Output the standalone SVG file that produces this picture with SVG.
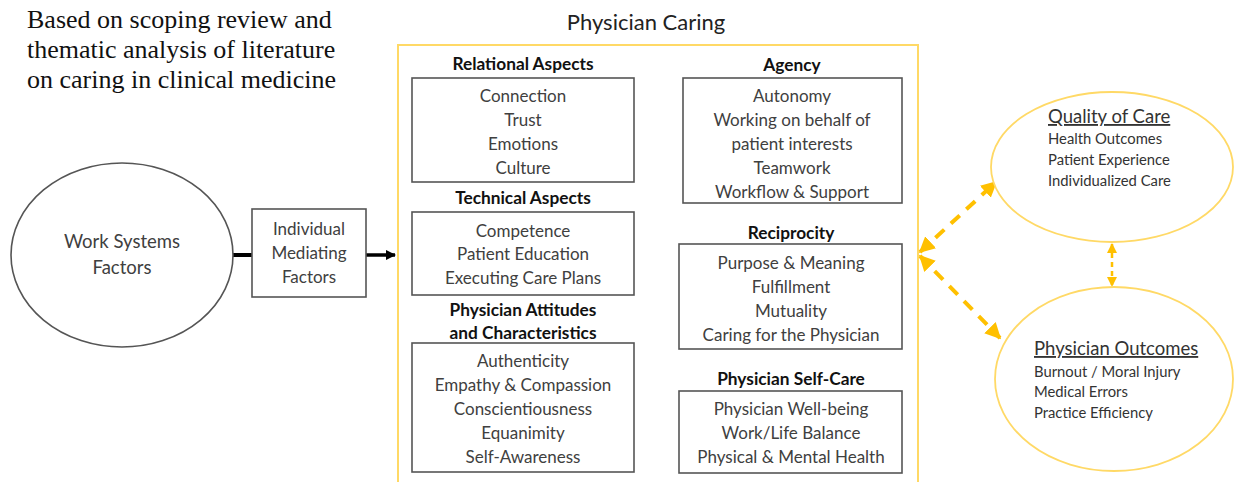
<svg xmlns="http://www.w3.org/2000/svg" width="1234" height="482" viewBox="0 0 1234 482">
<defs>
<style>
.t{font-family:Lato,"Open Sans","Liberation Sans",sans-serif;fill:#404040;text-anchor:middle;dominant-baseline:central}
.it{font-size:17px}
.hd{font-size:17.3px;font-weight:bold;fill:#111}
.box{fill:#fff;stroke:#555;stroke-width:1.6}
.oc{font-family:Lato,"Open Sans","Liberation Sans",sans-serif;fill:#333;font-size:14.8px}
.ot{font-size:18.5px;text-decoration:underline}
.yl{fill:#fff;stroke:#FFD966;stroke-width:1.8}
</style>
<marker id="ah" viewBox="0 0 10 10" refX="9" refY="5" markerWidth="4" markerHeight="4" orient="auto-start-reverse"><path d="M0,0 L10,5 L0,10 z" fill="#FFC000"/></marker>
<marker id="ahs" viewBox="0 0 10 10" refX="9" refY="5" markerWidth="4" markerHeight="4" orient="auto-start-reverse"><path d="M0,0 L10,5 L0,10 z" fill="#FFC000"/></marker>
<marker id="bk" viewBox="0 0 10 10" refX="9" refY="5" markerWidth="3" markerHeight="3" orient="auto"><path d="M0,0 L10,5 L0,10 z" fill="#000"/></marker>
</defs>
<rect width="1234" height="482" fill="#fff"/>
<g id="caption" font-family="'Liberation Serif',serif" font-size="26" fill="#111">
<text x="27" y="28">Based on scoping review and</text>
<text x="27" y="58">thematic analysis of literature</text>
<text x="27" y="88">on caring in clinical medicine</text>
</g>
<g id="physician-caring">
<path d="M398,490 L398,45 L918,45 L918,490" fill="none" stroke="#FFD966" stroke-width="2"/>
<text class="t" x="646" y="21" style="font-size:22px;fill:#222">Physician Caring</text>
</g>
<g id="connectors">
<line x1="232" y1="255" x2="252" y2="255" stroke="#000" stroke-width="4"/>
<line x1="366" y1="255" x2="395" y2="255" stroke="#000" stroke-width="3.5" marker-end="url(#bk)"/>
<line x1="920" y1="252" x2="996" y2="182" stroke="#FFC000" stroke-width="4" stroke-dasharray="12,9" marker-start="url(#ah)" marker-end="url(#ah)"/>
<line x1="920" y1="256" x2="1000" y2="338" stroke="#FFC000" stroke-width="4" stroke-dasharray="12,9" marker-start="url(#ah)" marker-end="url(#ah)"/>
<line x1="1112" y1="244" x2="1112" y2="286" stroke="#FFC000" stroke-width="2.5" stroke-dasharray="5,4" marker-start="url(#ahs)" marker-end="url(#ahs)"/>
</g>
<g id="work-systems">
<ellipse cx="122" cy="255" rx="111" ry="92" fill="#fff" stroke="#555" stroke-width="1.6"/>
<text class="t" x="122" y="241" style="font-size:18.5px">Work Systems</text>
<text class="t" x="122" y="267" style="font-size:18.5px">Factors</text>
</g>
<g id="mediating">
<rect class="box" x="252" y="209" width="114" height="88"/>
<text class="t it" x="309" y="228">Individual</text>
<text class="t it" x="309" y="252">Mediating</text>
<text class="t it" x="309" y="276">Factors</text>
</g>
<g id="relational">
<text class="t hd" x="523" y="63">Relational Aspects</text>
<rect class="box" x="412" y="78" width="222" height="104"/>
<text class="t it" x="523" y="95">Connection</text>
<text class="t it" x="523" y="119">Trust</text>
<text class="t it" x="523" y="143">Emotions</text>
<text class="t it" x="523" y="167">Culture</text>
</g>
<g id="technical">
<text class="t hd" x="523" y="197">Technical Aspects</text>
<rect class="box" x="412" y="212" width="222" height="83"/>
<text class="t it" x="523" y="230">Competence</text>
<text class="t it" x="523" y="253">Patient Education</text>
<text class="t it" x="523" y="277">Executing Care Plans</text>
</g>
<g id="attitudes">
<text class="t hd" x="523" y="309">Physician Attitudes</text>
<text class="t hd" x="523" y="332">and Characteristics</text>
<rect class="box" x="412" y="343" width="222" height="129"/>
<text class="t it" x="523" y="360">Authenticity</text>
<text class="t it" x="523" y="384">Empathy &amp; Compassion</text>
<text class="t it" x="523" y="408">Conscientiousness</text>
<text class="t it" x="523" y="432">Equanimity</text>
<text class="t it" x="523" y="456">Self-Awareness</text>
</g>
<g id="agency">
<text class="t hd" x="792" y="64">Agency</text>
<rect class="box" x="683" y="78" width="219" height="125"/>
<text class="t it" x="792" y="95">Autonomy</text>
<text class="t it" x="792" y="119">Working on behalf of</text>
<text class="t it" x="792" y="143">patient interests</text>
<text class="t it" x="792" y="167">Teamwork</text>
<text class="t it" x="792" y="191">Workflow &amp; Support</text>
</g>
<g id="reciprocity">
<text class="t hd" x="791" y="232">Reciprocity</text>
<rect class="box" x="679" y="244" width="223" height="105"/>
<text class="t it" x="791" y="262">Purpose &amp; Meaning</text>
<text class="t it" x="791" y="286">Fulfillment</text>
<text class="t it" x="791" y="310">Mutuality</text>
<text class="t it" x="791" y="334">Caring for the Physician</text>
</g>
<g id="self-care">
<text class="t hd" x="791" y="378">Physician Self-Care</text>
<rect class="box" x="679" y="391" width="223" height="82"/>
<text class="t it" x="791" y="408">Physician Well-being</text>
<text class="t it" x="791" y="432">Work/Life Balance</text>
<text class="t it" x="791" y="456">Physical &amp; Mental Health</text>
</g>
<g id="quality-of-care">
<ellipse class="yl" cx="1112" cy="167" rx="121" ry="75"/>
<text class="oc ot" x="1048" y="123">Quality of Care</text>
<text class="oc" x="1048" y="144">Health Outcomes</text>
<text class="oc" x="1048" y="165">Patient Experience</text>
<text class="oc" x="1048" y="186">Individualized Care</text>
</g>
<g id="physician-outcomes">
<ellipse class="yl" cx="1114" cy="379" rx="119" ry="92"/>
<text class="oc ot" x="1034" y="355">Physician Outcomes</text>
<text class="oc" x="1034" y="377">Burnout / Moral Injury</text>
<text class="oc" x="1034" y="397">Medical Errors</text>
<text class="oc" x="1034" y="418">Practice Efficiency</text>
</g>
</svg>
